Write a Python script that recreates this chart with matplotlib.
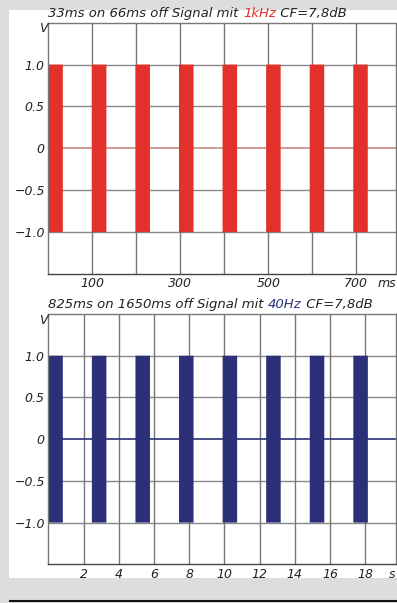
import numpy as np
import matplotlib.pyplot as plt
from matplotlib.patches import Rectangle
from matplotlib.lines import Line2D

# pulse data
top_starts = [0, 99, 198, 297, 396, 495, 594, 693]     # ms
top_width = 33
top_ticks = [100, 300, 500, 700]
top_grid = [100, 200, 300, 400, 500, 600, 700]

bot_starts = [0, 2.475, 4.95, 7.425, 9.9, 12.375, 14.85, 17.325]   # s
bot_width = 0.825
bot_ticks = [2, 4, 6, 8, 10, 12, 14, 16, 18]

y_ticks = [1.0, 0.5, 0, -0.5, -1.0]
y_labels = ['1.0', '0.5', '0', '\u22120.5', '\u22121.0']

red = '#e2302a'
navy = '#2b3078'
W, H = 397, 603

fig = plt.figure(figsize=(W / 100, H / 100), dpi=100)
fig.patch.set_facecolor('#dcdddf')
fig.patches.append(Rectangle((9 / W, 1 - 578 / H), 1, (578 - 10) / H,
                             transform=fig.transFigure, facecolor='white',
                             edgecolor='none', zorder=-5))
fig.add_artist(Line2D([10 / W, 1], [1 - 601 / H] * 2, color='#111111', lw=1.5))

fs = 9
font = dict(fontsize=fs, style='italic', color='#222222')


def make_axes(top, bottom):
    left, right = 48.3, 395.5
    ax = fig.add_axes([left / W, 1 - bottom / H, (right - left) / W, (bottom - top) / H])
    ax.set_ylim(-1.5, 1.5)
    for s in ax.spines.values():
        s.set_color('#777777')
        s.set_linewidth(1)
    ax.spines['bottom'].set_color('#444444')
    ax.tick_params(length=0, pad=2.5)
    ax.set_yticks(y_ticks)
    ax.set_yticklabels(y_labels, **font)
    for yv in [1.0, 0.5, -0.5, -1.0]:
        ax.axhline(yv, color='#888888', lw=1, zorder=1)
    ax.text(-0.002, 0.975, 'V', transform=ax.transAxes, ha='right', va='center', **font)
    return ax


def colored_title(ax, parts):
    renderer = fig.canvas.get_renderer()
    x = 0.0
    for txt, col in parts:
        t = ax.text(x, 1.012, txt, transform=ax.transAxes, ha='left', va='bottom',
                    fontsize=9.5, style='italic', color=col)
        bb = t.get_window_extent(renderer)
        x += bb.width / ax.bbox.width


# top: 1 kHz burst
ax1 = make_axes(22.7, 274)
ax1.set_xlim(0, 789)
for xv in top_grid:
    ax1.axvline(xv, color='#777777', lw=1, zorder=1)
ax1.bar(top_starts, 2, width=top_width, bottom=-1, align='edge', color=red,
        linewidth=0, snap=False, zorder=2)
ax1.axhline(0, color='#c98a80', lw=1.2, zorder=1.5)
ax1.set_xticks(top_ticks + [769])
ax1.set_xticklabels([str(v) for v in top_ticks] + ['ms'], **font)
colored_title(ax1, [('33ms on 66ms off Signal mit ', '#222222'), ('1kHz', red),
                    (' CF=7,8dB', '#222222')])

# bottom: 40 Hz burst
ax2 = make_axes(314, 564.3)
ax2.set_xlim(0, 19.72)
for xv in bot_ticks:
    ax2.axvline(xv, color='#777777', lw=1, zorder=1)
ax2.bar(bot_starts, 2, width=bot_width, bottom=-1, align='edge', color=navy,
        linewidth=0, snap=False, zorder=2)
ax2.axhline(0, color=navy, lw=1.2, zorder=1.5)
ax2.set_xticks(bot_ticks + [19.5])
ax2.set_xticklabels([str(v) for v in bot_ticks] + ['s'], **font)
colored_title(ax2, [('825ms on 1650ms off Signal mit ', '#222222'), ('40Hz', navy),
                    (' CF=7,8dB', '#222222')])

fig.savefig('out.png', dpi=100, facecolor=fig.get_facecolor())
